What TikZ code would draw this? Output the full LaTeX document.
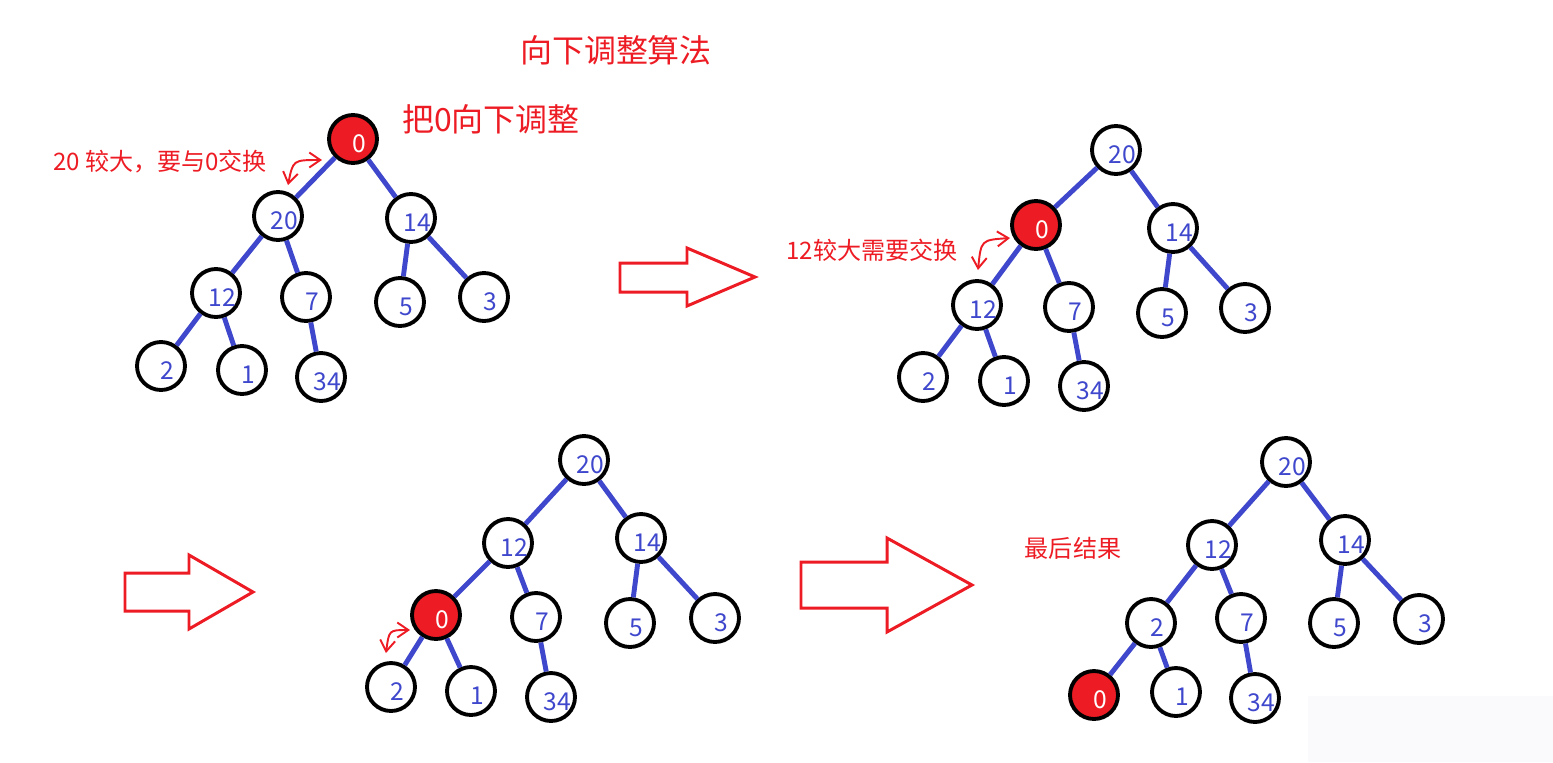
\documentclass[tikz,border=0pt]{standalone}
\usepackage{fontspec}
\setmainfont{Noto Sans CJK SC}
\usetikzlibrary{arrows.meta}
\definecolor{PaintRed}{RGB}{237,28,36}
\definecolor{PaintBlue}{RGB}{63,72,204}
\definecolor{PaintFaint}{RGB}{250,250,252}

\begin{document}
\begin{tikzpicture}[x=0.02cm,y=-0.02cm,>={Straight Barb[length=2.2mm,width=3mm]}]
        \tikzset{ring/.style={circle,draw=black,line width=2.2pt,minimum size=0.96cm,inner sep=0pt,text=PaintBlue,font=\fontsize{14}{16}\selectfont,text height=15pt,text depth=0pt,execute at begin node={\hspace*{7pt}}},
          hot/.style={ring,fill=PaintRed,text=white},
          link/.style={draw=PaintBlue,line width=2.8pt},
          note/.style={text=PaintRed,inner sep=0pt,font=\fontsize{13.7}{16}\selectfont},
          headline/.style={text=PaintRed,inner sep=0pt,font=\fontsize{18.2}{21}\selectfont},
          swap/.style={<->,draw=PaintRed,line width=1.1pt},
          bigarrow/.style={draw=PaintRed,line width=1.7pt,line join=miter}}
        \useasboundingbox (0,0) rectangle (1553,762);
        \fill[PaintFaint] (1308,696) rectangle (1553,762);
        % titles and notes
        \node[headline] (title) at (616,50) {向下调整算法};
        \node[headline] (step1) at (491,119) {把0向下调整};
        \node[note] (why1) at (160,162) {20 较大，要与0交换};
        \node[note] (why2) at (872,250) {12较大需要交换};
        \node[note] (done) at (1073,548) {最后结果};
        % first heap
        \node[hot] (a0) at (353,139) {0};
        \node[ring] (a20) at (278,216) {20};
        \node[ring] (a14) at (411,218) {14};
        \node[ring] (a12) at (216,293) {12};
        \node[ring] (a7) at (306,297) {7};
        \node[ring] (a5) at (400,302) {5};
        \node[ring] (a3) at (484,297) {3};
        \node[ring] (a2) at (161,366) {2};
        \node[ring] (a1) at (242,370) {1};
        \node[ring] (a34) at (321,377) {34};
        \draw[link] (a0) -- (a20) (a0) -- (a14) (a20) -- (a12) (a20) -- (a7)
          (a14) -- (a5) (a14) -- (a3) (a12) -- (a2) (a12) -- (a1) (a7) -- (a34);
        \coordinate (sa1) at (288,185);
        \coordinate (sa2) at (322,160);
        \draw[swap] (sa1) .. controls (293,160) .. (sa2);
        % second heap
        \node[ring] (b20) at (1116,150) {20};
        \node[hot] (b0) at (1036,225) {0};
        \node[ring] (b14) at (1173,228) {14};
        \node[ring] (b12) at (977,305) {12};
        \node[ring] (b7) at (1069,307) {7};
        \node[ring] (b5) at (1162,313) {5};
        \node[ring] (b3) at (1245,308) {3};
        \node[ring] (b2) at (923,377) {2};
        \node[ring] (b1) at (1004,381) {1};
        \node[ring] (b34) at (1084,386) {34};
        \draw[link] (b20) -- (b0) (b20) -- (b14) (b0) -- (b12) (b0) -- (b7)
          (b14) -- (b5) (b14) -- (b3) (b12) -- (b2) (b12) -- (b1) (b7) -- (b34);
        \coordinate (sb1) at (978,270);
        \coordinate (sb2) at (1010,238);
        \draw[swap] (sb1) .. controls (981,240) .. (sb2);
        % third heap
        \node[ring] (c20) at (584,460) {20};
        \node[ring] (c12) at (508,543) {12};
        \node[ring] (c14) at (641,538) {14};
        \node[hot] (c0) at (436,615) {0};
        \node[ring] (c7) at (536,617) {7};
        \node[ring] (c5) at (630,623) {5};
        \node[ring] (c3) at (715,618) {3};
        \node[ring] (c2) at (391,687) {2};
        \node[ring] (c1) at (471,691) {1};
        \node[ring] (c34) at (551,697) {34};
        \draw[link] (c20) -- (c12) (c20) -- (c14) (c12) -- (c0) (c12) -- (c7)
          (c14) -- (c5) (c14) -- (c3) (c0) -- (c2) (c0) -- (c1) (c7) -- (c34);
        \coordinate (sc1) at (386,653);
        \coordinate (sc2) at (410,630);
        \draw[swap] (sc1) .. controls (389,630) .. (sc2);
        % last heap
        \node[ring] (d20) at (1286,462) {20};
        \node[ring] (d12) at (1212,545) {12};
        \node[ring] (d14) at (1345,540) {14};
        \node[ring] (d2) at (1151,623) {2};
        \node[ring] (d7) at (1241,618) {7};
        \node[ring] (d5) at (1334,623) {5};
        \node[ring] (d3) at (1419,619) {3};
        \node[hot] (d0) at (1094,695) {0};
        \node[ring] (d1) at (1176,692) {1};
        \node[ring] (d34) at (1255,698) {34};
        \draw[link] (d20) -- (d12) (d20) -- (d14) (d12) -- (d2) (d12) -- (d7)
          (d14) -- (d5) (d14) -- (d3) (d2) -- (d0) (d2) -- (d1) (d7) -- (d34);
        % block arrows between the steps
        \draw[bigarrow] (620,263) -- (687,263) -- (687,248) -- (755,277) -- (687,306) -- (687,292) -- (620,292) -- cycle;
        \draw[bigarrow] (125,573) -- (189,573) -- (189,555) -- (253,592) -- (189,629) -- (189,611) -- (125,611) -- cycle;
        \draw[bigarrow] (801,562) -- (887,562) -- (887,538) -- (972,585) -- (887,632) -- (887,608) -- (801,608) -- cycle;
      \end{tikzpicture}
\end{document}
